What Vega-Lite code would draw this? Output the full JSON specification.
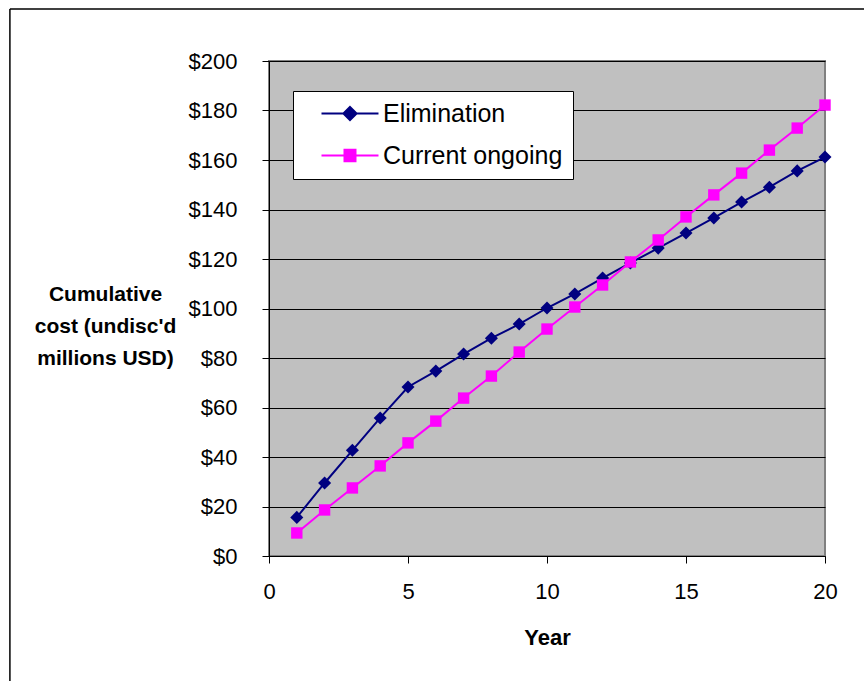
{
  "$schema": "https://vega.github.io/schema/vega-lite/v6.json",
  "width": 556,
  "height": 495,
  "autosize": "none",
  "padding": {"left": 269, "top": 61, "right": 39, "bottom": 125},
  "background": "white",
  "config": {
    "font": "Liberation Sans",
    "view": {"fill": "#C0C0C0", "stroke": "#808080", "strokeWidth": 2},
    "axis": {
      "labelFont": "Liberation Sans",
      "labelFontSize": 22,
      "labelColor": "black",
      "titleFont": "Liberation Sans",
      "titleFontSize": 22,
      "titleFontWeight": "bold",
      "titleColor": "black",
      "tickColor": "black",
      "domainColor": "black",
      "tickSize": 7
    }
  },
  "data": {
    "values": [
      {"year": 1, "series": "Elimination", "cost": 15.6},
      {"year": 2, "series": "Elimination", "cost": 29.5},
      {"year": 3, "series": "Elimination", "cost": 42.7},
      {"year": 4, "series": "Elimination", "cost": 55.8},
      {"year": 5, "series": "Elimination", "cost": 68.3},
      {"year": 6, "series": "Elimination", "cost": 74.7},
      {"year": 7, "series": "Elimination", "cost": 81.6},
      {"year": 8, "series": "Elimination", "cost": 88.0},
      {"year": 9, "series": "Elimination", "cost": 93.7},
      {"year": 10, "series": "Elimination", "cost": 100.2},
      {"year": 11, "series": "Elimination", "cost": 105.9},
      {"year": 12, "series": "Elimination", "cost": 112.3},
      {"year": 13, "series": "Elimination", "cost": 118.4},
      {"year": 14, "series": "Elimination", "cost": 124.4},
      {"year": 15, "series": "Elimination", "cost": 130.5},
      {"year": 16, "series": "Elimination", "cost": 136.6},
      {"year": 17, "series": "Elimination", "cost": 143.0},
      {"year": 18, "series": "Elimination", "cost": 149.0},
      {"year": 19, "series": "Elimination", "cost": 155.6},
      {"year": 20, "series": "Elimination", "cost": 161.2},
      {"year": 1, "series": "Current ongoing", "cost": 9.3},
      {"year": 2, "series": "Current ongoing", "cost": 18.6},
      {"year": 3, "series": "Current ongoing", "cost": 27.5},
      {"year": 4, "series": "Current ongoing", "cost": 36.4},
      {"year": 5, "series": "Current ongoing", "cost": 45.7},
      {"year": 6, "series": "Current ongoing", "cost": 54.5},
      {"year": 7, "series": "Current ongoing", "cost": 63.8},
      {"year": 8, "series": "Current ongoing", "cost": 72.7},
      {"year": 9, "series": "Current ongoing", "cost": 82.4},
      {"year": 10, "series": "Current ongoing", "cost": 91.7},
      {"year": 11, "series": "Current ongoing", "cost": 100.6},
      {"year": 12, "series": "Current ongoing", "cost": 109.5},
      {"year": 13, "series": "Current ongoing", "cost": 118.8},
      {"year": 14, "series": "Current ongoing", "cost": 127.7},
      {"year": 15, "series": "Current ongoing", "cost": 137.0},
      {"year": 16, "series": "Current ongoing", "cost": 145.9},
      {"year": 17, "series": "Current ongoing", "cost": 154.7},
      {"year": 18, "series": "Current ongoing", "cost": 164.0},
      {"year": 19, "series": "Current ongoing", "cost": 172.9},
      {"year": 20, "series": "Current ongoing", "cost": 182.2}
    ]
  },
  "layer": [
    {
      "data": {"values": [{}]},
      "mark": {"type": "rule", "color": "black", "strokeWidth": 1.5, "clip": false},
      "encoding": {
        "x": {"datum": -9.32, "type": "quantitative"},
        "x2": {"datum": 22},
        "y": {"datum": 221, "type": "quantitative"}
      }
    },
    {
      "data": {"values": [{}]},
      "mark": {"type": "rule", "color": "black", "strokeWidth": 1.5, "clip": false},
      "encoding": {
        "x": {"datum": -9.32, "type": "quantitative"},
        "y": {"datum": 221, "type": "quantitative"},
        "y2": {"datum": -70}
      }
    },
    {
      "mark": {"type": "line", "strokeWidth": 2},
      "encoding": {
        "x": {
          "field": "year",
          "type": "quantitative",
          "scale": {"domain": [0, 20], "nice": false, "zero": false},
          "axis": {
            "values": [0, 5, 10, 15, 20],
            "grid": false,
            "labelFlush": false,
            "labelPadding": 18,
            "title": "Year",
            "titleBaseline": "alphabetic",
            "titleY": 88
          }
        },
        "y": {
          "field": "cost",
          "type": "quantitative",
          "scale": {"domain": [0, 200], "nice": false},
          "axis": {
            "values": [0, 20, 40, 60, 80, 100, 120, 140, 160, 180, 200],
            "grid": true,
            "gridColor": "black",
            "gridWidth": 1,
            "labelPadding": 25,
            "labelExpr": "'$' + datum.value",
            "title": ["Cumulative", "cost (undisc'd", "millions USD)"],
            "titleAngle": 0,
            "titleAlign": "center",
            "titleBaseline": "alphabetic",
            "titleFontSize": 21,
            "titleLineHeight": 32,
            "titleX": -164,
            "titleY": 239
          }
        },
        "color": {
          "field": "series",
          "type": "nominal",
          "scale": {
            "domain": ["Elimination", "Current ongoing"],
            "range": ["#000080", "#FF00FF"]
          },
          "legend": {
            "orient": "none",
            "legendX": 24,
            "legendY": 30,
            "title": null,
            "fillColor": "white",
            "strokeColor": "black",
            "padding": 10,
            "labelFont": "Liberation Sans",
            "labelFontSize": 25,
            "labelColor": "black",
            "labelLimit": 0,
            "labelOffset": 55,
            "labelExpr": "datum.label + '\u2002'",
            "rowPadding": 16,
            "symbolSize": 484,
            "symbolStrokeWidth": 2,
            "encode": {
              "symbols": {
                "update": {
                  "shape": {"signal": "datum.value === 'Elimination' ? 'M0.545,0H5.727M3.136,-0.6L3.736,0L3.136,0.6L2.536,0Z' : 'M0.545,0H5.727M2.636,-0.52H3.636V0.52H2.636Z'"},
                  "fill": {"scale": "color", "field": "value"},
                  "stroke": {"scale": "color", "field": "value"},
                  "strokeWidth": {"value": 2}
                }
              }
            }
          }
        }
      }
    },
    {
      "transform": [{"filter": "datum.series === 'Elimination'"}],
      "mark": {"type": "point", "shape": "diamond", "filled": true, "opacity": 1, "size": 170, "color": "#000080"},
      "encoding": {
        "x": {"field": "year", "type": "quantitative"},
        "y": {"field": "cost", "type": "quantitative"}
      }
    },
    {
      "transform": [{"filter": "datum.series === 'Current ongoing'"}],
      "mark": {"type": "point", "shape": "square", "filled": true, "opacity": 1, "size": 130, "color": "#FF00FF"},
      "encoding": {
        "x": {"field": "year", "type": "quantitative"},
        "y": {"field": "cost", "type": "quantitative"}
      }
    }
  ]
}
